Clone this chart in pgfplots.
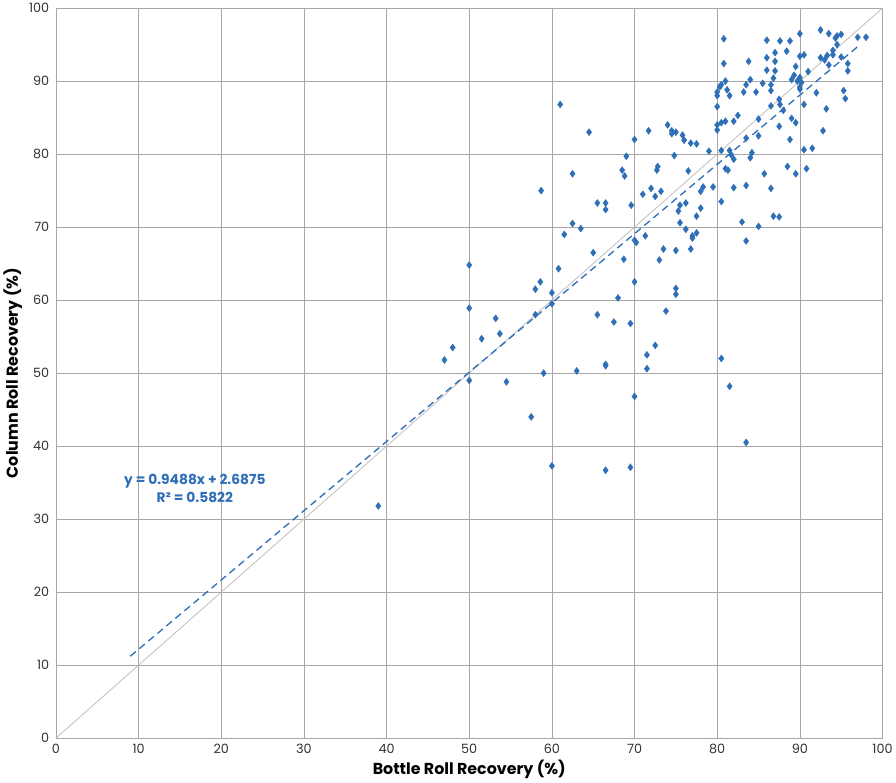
\documentclass[border=0pt]{standalone}
\usepackage{pgfplots}
\pgfplotsset{compat=1.18}
\usepackage{fontspec}
\setmainfont{Poppins}
\definecolor{pt}{RGB}{46,111,184}
\begin{document}
\begin{tikzpicture}
\begin{axis}[
  width=805bp, height=711bp, scale only axis,
  xmin=0,xmax=100,ymin=0,ymax=100,
  xtick={0,10,...,100}, ytick={0,10,...,100},
  grid=major, grid style={gray!70, line width=0.6pt},
  axis line style={gray!70}, tick style={draw=none},
  /pgf/number format/assume math mode=true,
  ticklabel style={font=\fontsize{12.5}{14}\selectfont, text=black!80},
  xticklabel style={yshift=-2pt}, yticklabel style={xshift=-3pt},
  xlabel={\textbf{Bottle Roll Recovery (\%)}},
  ylabel={\textbf{Column Roll Recovery (\%)}},
  label style={font=\fontsize{15.5}{18}\selectfont},
  xlabel style={yshift=0pt}, ylabel style={yshift=0pt},
]
\addplot[gray!50, line width=0.8pt] coordinates {(0,0) (100,100)};
\addplot[pt, dashed, line width=1.3pt, dash pattern=on 7pt off 4.5pt] coordinates {(9,11.2266) (97,94.7211)};
\addplot[only marks, mark=diamond*, mark size=3.4pt, color=pt, fill=pt] coordinates {
(39,31.8) (47,51.8) (48,53.5) (50,64.8) (50,58.9) (50,49) (51.5,54.7) (53.2,57.5) (53.7,55.4) (54.5,48.8)
(57.5,44) (58,61.5) (58,58) (58.6,62.5) (58.7,75) (59,50) (60,61) (60,59.5) (60,37.3) (60.8,64.3)
(61,86.8) (61.5,69) (62.5,70.5) (62.5,77.3) (63,50.3) (63.5,69.8) (64.5,83) (65,66.5) (65.5,73.3) (65.5,58)
(66.5,73.3) (66.5,72.4) (66.5,51) (66.5,51.2) (66.5,36.7) (67.5,57) (68,60.3) (68.5,77.8) (68.7,65.6) (68.8,77)
(69,79.7) (69.5,56.8) (69.5,37.1) (69.6,73) (70,82) (70,68.2) (70.2,67.9) (70,62.5) (70,46.8) (71,74.5)
(71.3,68.8) (71.5,52.5) (71.5,50.6) (71.7,83.2) (72,75.3) (72.5,74.2) (72.5,53.8) (72.7,77.8) (72.8,78.3) (73,65.5)
(73.5,67) (73.2,74.9) (73.8,58.5) (74,84) (74.5,83.2) (74.5,82.8) (74.8,79.8) (75,83) (75,61.6) (75,60.8)
(75,66.8) (75.5,73) (75.3,72.2) (75.8,82.6) (75.5,70.6) (76,81.9) (76.2,69.7) (76.2,73.3) (76.5,77.7) (76.8,81.5)
(76.8,67) (77,68.8) (77,68.5) (77.5,69.2) (78.3,75.5) (77.5,81.4) (77.5,71.5) (78,74.9) (78,72.6) (79,80.4)
(79.5,75.5) (80,84) (80,83.3) (80,86.5) (80,88) (80,88.5) (80.3,89.2) (80.5,73.5) (80.5,80.5) (80.5,84.3)
(80.5,89.5) (80.8,92.4) (80.8,95.8) (80.5,52) (81,78) (81,90) (81,84.5) (81.2,88.8) (81.3,77.8) (81.5,80.5)
(81.5,88) (81.5,48.2) (81.7,79.9) (82,79.3) (82,84.5) (82,75.4) (82.5,85.3) (83,70.7) (83.5,68.1) (83.5,40.5)
(83.5,75.7) (83.5,82.2) (83.2,88.5) (83.5,89.5) (83.8,92.7) (84,90.2) (84,79.5) (84.2,80.2) (84.7,88.5) (85,70.1)
(85,82.5) (85,84.8) (85.5,89.7) (85.7,77.3) (86,95.6) (86,91.5) (86,93.2) (86.5,88.7) (86.5,86.6) (86.5,89.5)
(86.5,75.3) (86.8,90.4) (86.8,71.5) (87,92.7) (87,93.9) (87.5,71.4) (87.5,83.8) (87,91.4) (87.5,87.5) (87.6,86.8)
(87.6,95.5) (88,86) (88.4,94.1) (88.5,78.3) (88.8,95.5) (88.8,82) (89,90.2) (89,84.9) (89.3,90.8) (89.5,84.3)
(89.5,77.3) (89.5,92) (89.7,90) (90,90.5) (90,89.2) (90,88.9) (90,93.4) (90,96.5) (90.2,89.8) (90.5,93.6)
(90.5,86.8) (90.5,80.6) (90.8,78) (91,91.3) (91.5,80.8) (92,88.4) (92.5,93.2) (92.5,97) (92.8,83.2) (93,92.9)
(93.2,86.2) (93.3,93.5) (93.5,96.5) (93.5,92.2) (94,94.2) (94,93.6) (94.3,95.9) (94.5,95) (94.5,96.2) (95,96.4)
(95,93.3) (95.3,88.7) (95.5,87.6) (95.8,92.4) (95.8,91.4) (97,96) (98,96)
};
\node[pt, font=\bfseries\fontsize{13.5}{18}\selectfont, align=center] at (axis cs:16.8,34.2) {y = 0.9488x + 2.6875\\R² = 0.5822};
\end{axis}
\end{tikzpicture}
\end{document}
